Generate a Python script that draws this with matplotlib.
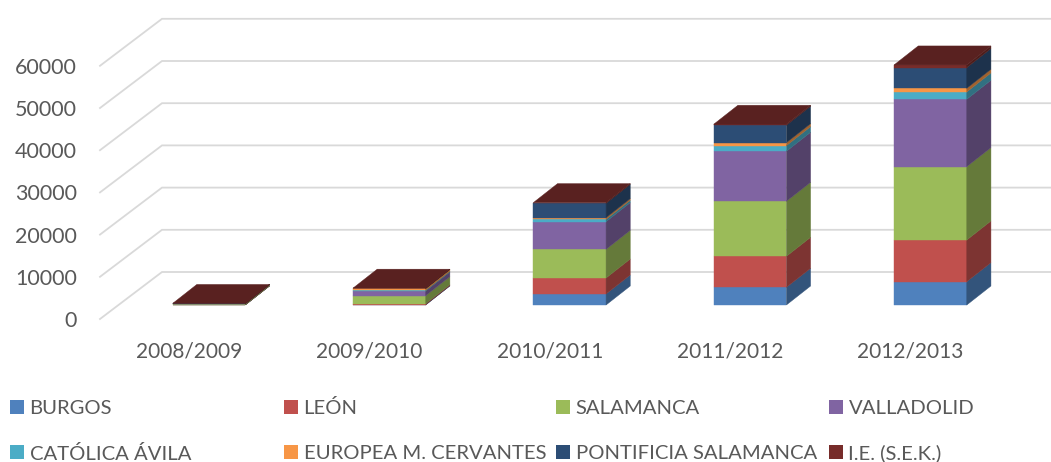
"""
Stacked 3D-look column chart of university enrolment by course.
"""

import matplotlib
matplotlib.use('Agg')
import matplotlib.pyplot as plt
import matplotlib.colors as mcolors
from matplotlib.patches import Rectangle
import numpy as np

courses = ['2008/2009', '2009/2010', '2010/2011', '2011/2012', '2012/2013']
names = ['BURGOS', 'LEÓN', 'SALAMANCA', 'VALLADOLID', 'CATÓLICA ÁVILA',
         'EUROPEA M. CERVANTES', 'PONTIFICIA SALAMANCA', 'I.E. (S.E.K.)']

burgos = [20, 80, 2610, 4190, 5530]
leon = [30, 240, 3790, 7350, 9875]
salamanca = [250, 1900, 6790, 13035, 17380]
valladolid = [30, 1100, 6560, 11850, 15960]
catolica = [10, 160, 550, 1340, 1740]
europea = [10, 470, 400, 710, 870]
pontificia = [10, 10, 3400, 4110, 4900]
sek = [10, 30, 160, 240, 630]
series = [burgos, leon, salamanca, valladolid, catolica, europea, pontificia, sek]

colors = ['#4F81BD', '#C0504D', '#9BBB59', '#8064A2',
          '#4BACC6', '#F79646', '#2C4D75', '#772C2A']
y_ticks = [0, 10000, 20000, 30000, 40000, 50000, 60000]

W, H = 1051, 462
PX_X = 180.35       # pixels per category
PX_Y = 0.00422      # pixels per student
X0 = 209            # pixel centre of first bar
Y0 = 305            # pixel of bar base
TEXT = '#595959'


def darker(color, f):
    return tuple(c * f for c in mcolors.to_rgb(color))


plt.rcParams['font.family'] = ['Lato', 'DejaVu Sans']
fig = plt.figure(figsize=(W / 100, H / 100), dpi=100)
ax = fig.add_axes([0, 0, 1, 1])
ax.set_xlim(-X0 / PX_X, (W - X0) / PX_X)
ax.set_ylim((Y0 - H) / PX_Y, Y0 / PX_Y)
ax.axis('off')

bar_w = 72.7 / PX_X
dx = 24.2 / PX_X
dy = 19 / PX_Y

# back wall and floor lines
wall_left = (100 - X0) / PX_X
wall_back = (162 - X0) / PX_X
front_off = (Y0 - 319) / PX_Y
back_off = (Y0 - 272) / PX_Y
for v in y_ticks:
    ax.plot([wall_left, wall_back, ax.get_xlim()[1]],
            [v + front_off, v + back_off, v + back_off],
            color='#D9D9D9', lw=1.3, solid_joinstyle='miter', zorder=1)
    ax.text(77 / PX_X + ax.get_xlim()[0], v + front_off, str(v), ha='right',
            va='center_baseline', fontsize=15.5, color=TEXT)

x = np.arange(len(courses))
bottom = np.zeros(len(courses))
for vals, col in zip(series, colors):
    vals = np.array(vals, dtype=float)
    top = bottom + vals
    ax.bar(x, vals, bar_w, bottom=bottom, color=col, linewidth=0.3,
           edgecolor=col, zorder=3)
    for i in x:
        r = i + bar_w / 2
        ax.fill([r, r + dx, r + dx, r],
                [bottom[i], bottom[i] + dy, top[i] + dy, top[i]],
                color=darker(col, 0.65), linewidth=0.3, zorder=3)
    bottom = top

# lid of each column, in the colour of the last series
for i in x:
    l, r = i - bar_w / 2, i + bar_w / 2
    ax.fill([l, r, r + dx, l + dx],
            [bottom[i], bottom[i], bottom[i] + dy, bottom[i] + dy],
            color=darker(colors[-1], 0.75), linewidth=0.3, zorder=4)

for i, c in enumerate(courses):
    ax.text(i - 20 / PX_X, (Y0 - 350) / PX_Y, c, ha='center',
            va='center_baseline', fontsize=15, color=TEXT)

# legend, two rows of four in fixed columns
leg_x = [10, 284, 556, 829]
leg_y = [407, 452]
for n, (name, col) in enumerate(zip(names, colors)):
    px = leg_x[n % 4]
    py = leg_y[n // 4]
    fig.add_artist(Rectangle((px / W, 1 - (py + 7) / H), 14 / W, 14 / H,
                             transform=fig.transFigure, color=col, lw=0))
    fig.text((px + 19.5) / W, 1 - py / H, name, ha='left',
             va='center_baseline', fontsize=14.6, color=TEXT)

fig.savefig('out.png', dpi=100)
